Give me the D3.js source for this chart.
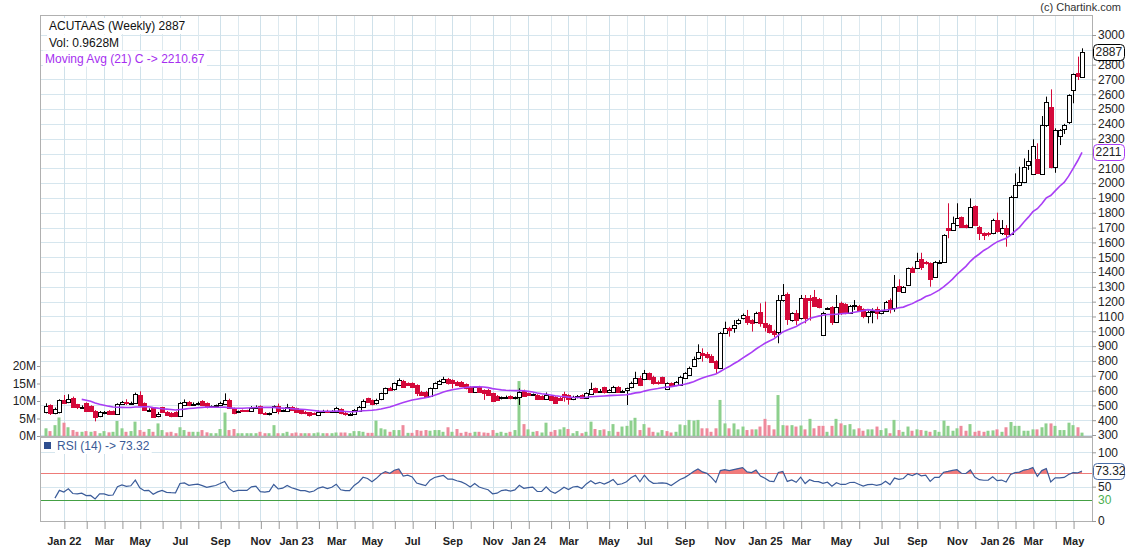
<!DOCTYPE html>
<html><head><meta charset="utf-8">
<script src="https://cdnjs.cloudflare.com/ajax/libs/d3/7.8.5/d3.min.js"></script>
<style>
html,body{margin:0;padding:0;background:#fff;}
svg{display:block;font-family:"Liberation Sans",Arial,sans-serif;}
</style></head><body>
<svg id="chart" width="1127" height="551"></svg>
<script>
// ---------------- DATA ----------------
const startDate = new Date(2021, 11, 6); // first visible weekly candle (Mon)
// closes of the 12 weeks before the visible range (feed MA / RSI only)
const preCloses = [580,630,650,630,600,580,565,550,535,525,515,505];
const opens = [
458,502,451,455,536,520,552,507,487,514, 495,462,428,450,462,460,441,509,525,513,
514,570,514,469,480,430,487,458,450,455, 430,505,525,505,508,529,514,488,495,502,
510,536,480,455,469,468,460,485,495,450, 443,458,496,462,465,491,480,469,458,452,
448,435,460,465,455,458,475,450,432,442, 465,491,547,536,514,540,581,615,608,638,
664,649,649,638,593,593,563,615,645,655, 676,671,660,660,642,626,589,626,604,604,
581,563,548,556,563,548,559,600,581,570, 570,563,545,563,559,552,574,570,541,556,
570,548,577,615,593,622,593,593,626,593, 603,622,649,682,676,716,694,658,689,608,
649,638,638,683,705,766,817,856,845,836, 800,750,991,1020,1020,1054,1088,1103,1076,1061,
1132,1058,1043,1000,993,1211,1252,1076,1121,1088, 1223,1223,1234,1216,975,1155,1162,1065,1189,1184,
1126,1172,1171,1148,1103,1130,1148,1121,1139,1211, 1155,1306,1268,1313,1430,1425,1488,1470,1459,1369,
1463,1470,1695,1684,1717,1769,1717,1702,1846,1706, 1661,1661,1661,1751,1661,1695,1657,1909,1988,2005,
2122,2061,2160,2061,2392,2511,2106,2318,2363,2410, 2629,2746,2719];
const highs = [
514,507,485,541,570,575,559,510,500,520, 500,468,462,462,468,465,514,530,541,525,
586,595,520,480,487,455,490,462,455,460, 522,540,530,520,525,535,520,500,505,525,
581,545,485,465,472,470,495,500,500,455, 452,500,512,472,510,495,485,472,462,455,
452,465,470,470,468,490,480,455,448,475, 496,540,552,540,545,585,620,625,654,682,
672,655,655,642,598,598,620,655,672,693, 685,676,665,664,648,630,627,632,608,610,
585,570,560,566,568,560,615,606,585,580, 575,568,587,568,562,563,592,575,565,570,
575,588,653,620,610,626,610,632,630,605, 620,660,727,700,739,722,700,668,694,655,
655,664,700,724,762,829,912,885,860,845, 805,995,1065,1030,1076,1085,1120,1144,1082,1132,
1189,1200,1050,1010,1245,1319,1262,1128,1144,1245, 1245,1245,1279,1225,1132,1162,1170,1245,1200,1190,
1178,1211,1178,1155,1140,1155,1166,1145,1205,1222, 1380,1351,1305,1430,1436,1530,1530,1475,1465,1475,
1480,1655,1864,1774,1864,1775,1722,1897,1850,1712, 1668,1670,1760,1801,1751,1717,1915,2066,2111,2167,
2224,2296,2269,2453,2584,2633,2370,2365,2400,2600, 2740,2854,2910];
const lows = [
446,435,440,446,513,515,487,475,478,455, 455,392,420,440,435,437,437,505,502,505,
510,495,462,460,415,420,452,428,420,425, 425,500,495,498,500,497,480,485,485,495,
505,476,440,448,455,455,458,478,440,435, 432,455,440,455,460,462,452,440,440,424,
435,430,452,450,450,455,440,430,428,438, 460,485,518,500,505,535,575,600,600,630,
620,632,620,563,565,553,558,610,640,650, 640,615,630,625,608,588,585,588,537,565,
525,530,540,550,540,540,503,558,565,563, 536,536,540,530,512,530,525,505,535,548,
545,545,572,582,585,580,588,588,588,588, 502,615,645,630,670,670,640,640,645,605,
625,630,632,678,700,760,810,795,815,790, 716,745,985,964,990,1045,1080,1043,998,1055,
1031,998,985,960,919,1200,1043,1065,1043,1080, 1054,1072,1165,1155,970,1150,1043,1060,1110,1115,
1120,1144,1132,1088,1054,1054,1081,1115,1130,1121, 1132,1268,1262,1310,1395,1420,1414,1450,1301,1360,
1455,1465,1628,1680,1710,1700,1695,1698,1712,1616, 1616,1640,1655,1666,1650,1571,1650,1900,1980,2000,
2089,2055,2065,2055,2380,2100,2070,2257,2332,2400, 2539,2696,2715];
const closes = [
496,446,478,536,518,545,491,487,492,464, 465,420,457,457,441,443,509,525,513,518,
574,502,469,472,424,445,458,435,431,430, 518,525,502,510,514,502,487,495,502,518,
536,480,451,460,460,460,485,490,446,443, 447,496,460,466,487,469,458,446,446,435,
441,458,465,455,462,480,446,440,440,469, 491,532,525,507,536,581,615,605,649,671,
626,638,626,581,570,559,615,649,664,676, 649,649,638,630,615,593,622,593,581,570,
532,536,554,559,548,556,588,565,570,574, 541,541,570,536,518,536,559,541,559,563,
548,581,608,588,600,588,604,626,593,600, 616,653,682,638,721,676,649,650,653,649,
631,660,694,716,754,811,862,840,829,796, 750,991,1020,1009,1043,1076,1110,1065,1058,1126,
1058,1031,993,985,1211,1245,1081,1121,1076,1227, 1088,1211,1171,1166,1126,1158,1065,1162,1121,1121,
1171,1178,1139,1103,1132,1140,1121,1139,1200,1148, 1297,1274,1297,1425,1403,1474,1436,1459,1353,1470,
1470,1650,1684,1729,1762,1706,1702,1841,1717,1661, 1650,1654,1751,1679,1695,1657,1909,1988,2010,2111,
2152,2250,2070,2392,2549,2106,2359,2359,2392,2595, 2734,2725,2887];
const volumes = [ // millions
2.2,1.4,3.1,5.3,3.8,2.5,1.7,1.2,1.2,1.4, 1.2,1.4,0.8,1.4,1.05,1.2,4.3,2.2,1.2,1.4,
4.1,1.7,1.2,2.0,1.2,3.6,1.7,1.05,1.2,0.8, 2.5,1.7,1.2,1.2,1.2,1.7,1.05,0.8,0.8,2.0,
6.7,1.7,2.0,0.8,0.8,0.8,0.8,0.8,1.2,0.8, 0.8,3.1,0.8,0.8,1.2,0.8,1.0,0.8,0.8,0.8,
0.8,1.0,0.8,0.8,0.8,1.0,1.0,1.0,0.8,1.4, 1.4,1.2,0.9,0.9,4.4,2.2,1.9,1.2,1.7,1.7,
3.1,0.9,0.9,1.7,1.5,1.7,1.5,1.7,1.7,1.2, 2.5,1.2,2.0,0.9,1.2,0.9,1.2,1.2,1.0,0.9,
1.7,0.9,1.2,0.9,1.2,1.7,15.7,3.4,1.9,1.2, 1.4,1.0,3.8,1.2,1.7,1.9,2.5,2.0,0.8,1.4,
0.8,1.2,4.1,2.0,1.7,1.9,1.4,3.4,1.2,2.7, 2.9,4.4,5.2,1.7,3.4,2.4,1.2,1.0,1.7,1.4,
1.0,1.2,3.3,3.1,4.6,4.4,4.6,2.2,2.2,1.2, 2.2,10.3,3.6,2.2,3.6,1.9,2.7,1.7,1.9,1.9,
2.7,4.9,3.1,1.9,11.7,3.1,3.0,3.1,2.7,3.0, 1.9,4.9,2.2,2.9,2.9,1.2,2.9,4.9,3.6,3.1,
3.4,1.9,2.2,1.5,1.9,1.9,2.7,1.7,2.2,0.8, 4.6,1.7,1.2,2.7,1.5,1.9,1.7,1.5,1.2,1.7,
1.2,4.4,2.9,1.5,2.2,2.9,1.5,3.4,1.2,1.5, 1.2,1.5,1.6,1.9,1.2,2.5,4.0,2.9,2.9,1.5,
1.5,1.9,1.9,2.5,3.6,3.6,2.9,1.7,1.7,3.8, 3.1,2.5,0.9628];
const priceTicks = [300,400,500,600,700,800,900,1000,1100,1200,1300,1400,1500,1600,1700,1800,1900,2000,2100,2200,2300,2400,2500,2600,2700,2800,2900,3000];
const volTicks = [0,5,10,15,20];
const rsiTicks = [0,50,100];
const monthNames = ["Jan","Feb","Mar","Apr","May","Jun","Jul","Aug","Sep","Oct","Nov","Dec"];
const maPeriod = 21, rsiPeriod = 14;
const titleText = "ACUTAAS (Weekly) 2887";
const volText = "Vol: 0.9628M";
const maText = "Moving Avg (21) C -> 2210.67";
const rsiText = "RSI (14) -> 73.32";
const lastPriceLabel = "2887", lastMaLabel = "2211", lastRsiLabel = "73.32";
const lastMaValue = 2210.67, lastRsiValue = 73.32;

// ---------------- LAYOUT ----------------
const N = closes.length;
const L = 40, R = 1092, T = 15, MB = 436, RB = 521;
const svg = d3.select("#chart");
const x = d3.scaleLinear().domain([0, N - 1]).range([46, 1082]);
const y = d3.scaleLinear().domain([300, 3000]).range([435, 35]);
const yv = d3.scaleLinear().domain([0, 20]).range([MB, 366]);
const yr = d3.scaleLinear().domain([0, 100]).range([RB, 452.3]);
const xc = i => Math.round(x(i)) + 0.5;

const dates = closes.map((_, i) => d3.timeDay.offset(startDate, 7 * i));
const monthTicks = [];
dates.forEach((d, i) => { if (i > 0 && d.getMonth() !== dates[i - 1].getMonth()) monthTicks.push(i); });
const monthLabel = i => {
  const d = dates[i], m = d.getMonth();
  if (m % 2 !== 0) return "";
  return m === 0 ? "Jan " + String(d.getFullYear()).slice(2) : monthNames[m];
};

// ---------------- GRID ----------------
const grid = svg.append("g");
priceTicks.forEach(p => {
  const yy = Math.round(y(p)) + 0.5;
  grid.append("line").attr("x1", L).attr("x2", R).attr("y1", yy).attr("y2", yy).attr("stroke", "#d6e6ee");
});
monthTicks.forEach(i => {
  grid.append("line").attr("x1", xc(i)).attr("x2", xc(i)).attr("y1", T).attr("y2", RB)
    .attr("stroke", monthLabel(i) ? "#cfe1ea" : "#dde9ef");
});
[100, 50].forEach(v => {
  const yy = Math.round(yr(v)) + 0.5;
  grid.append("line").attr("x1", L).attr("x2", R).attr("y1", yy).attr("y2", yy).attr("stroke", "#d6e6ee");
});

// ---------------- VOLUME ----------------
const volUp = i => i === 0 ? closes[0] >= opens[0] : closes[i] >= closes[i - 1];
svg.append("g").selectAll("rect").data(volumes).join("rect")
  .attr("x", (d, i) => xc(i) - 2)
  .attr("width", 3)
  .attr("y", d => yv(d))
  .attr("height", d => MB - yv(d))
  .attr("fill", (d, i) => volUp(i) ? "#8dd08d" : "#ee8a9c");

// main panel bottom line
svg.append("line").attr("x1", L).attr("x2", R).attr("y1", MB + 1).attr("y2", MB + 1)
  .attr("stroke", "#b4b4b4").attr("stroke-width", 2);

// ---------------- CANDLES ----------------
const cg = svg.append("g");
for (let i = 0; i < N; i++) {
  const o = opens[i], c = closes[i];
  const up = c >= o;
  const col = up ? "#000" : "#d4093a";
  const hi = Math.max(highs[i], o, c), lo = Math.min(lows[i], o, c);
  cg.append("line").attr("x1", xc(i)).attr("x2", xc(i))
    .attr("y1", y(hi)).attr("y2", y(lo)).attr("stroke", col).attr("stroke-width", 1);
  const yt = Math.round(y(Math.max(o, c))) + 0.5;
  const yb = Math.round(y(Math.min(o, c))) + 0.5;
  cg.append("rect").attr("x", xc(i) - 2).attr("width", 4)
    .attr("y", yt).attr("height", Math.max(1, yb - yt))
    .attr("fill", up ? "#fff" : "#d4093a").attr("stroke", col).attr("stroke-width", 1);
}

// ---------------- MOVING AVERAGE ----------------
const allCloses = preCloses.concat(closes);
const P = preCloses.length;
const maPts = [];
for (let i = 0; i < N; i++) {
  const g = i + P;
  if (g >= maPeriod - 1) maPts.push({ i, v: d3.mean(allCloses.slice(g - maPeriod + 1, g + 1)) });
}
svg.append("path").datum(maPts)
  .attr("d", d3.line().x(d => x(d.i)).y(d => y(d.v)))
  .attr("fill", "none").attr("stroke", "#a93ef5").attr("stroke-width", 1.6);

// ---------------- RSI ----------------
const rsiPts = [];
let ag = 0, al = 0;
for (let g = 1; g < allCloses.length; g++) {
  const ch = allCloses[g] - allCloses[g - 1];
  const gain = Math.max(ch, 0), loss = Math.max(-ch, 0);
  if (g <= rsiPeriod) { ag += gain / rsiPeriod; al += loss / rsiPeriod; }
  else { ag = (ag * (rsiPeriod - 1) + gain) / rsiPeriod; al = (al * (rsiPeriod - 1) + loss) / rsiPeriod; }
  if (g >= rsiPeriod && g - P >= 0) {
    rsiPts.push({ i: g - P, v: al === 0 ? 100 : 100 - 100 / (1 + ag / al) });
  }
}
svg.append("clipPath").attr("id", "above70").append("rect")
  .attr("x", L).attr("y", T).attr("width", R - L).attr("height", yr(70) - T);
svg.append("path").datum(rsiPts).attr("clip-path", "url(#above70)")
  .attr("d", d3.area().x(d => x(d.i)).y0(yr(70)).y1(d => yr(d.v)))
  .attr("fill", "#f27b7b");
svg.append("line").attr("x1", L).attr("x2", R).attr("y1", Math.round(yr(70)) + 0.5).attr("y2", Math.round(yr(70)) + 0.5)
  .attr("stroke", "#ee7b78").attr("stroke-width", 1.2);
svg.append("line").attr("x1", L).attr("x2", R).attr("y1", Math.round(yr(30)) + 0.5).attr("y2", Math.round(yr(30)) + 0.5)
  .attr("stroke", "#44a044").attr("stroke-width", 1.2);
svg.append("path").datum(rsiPts)
  .attr("d", d3.line().x(d => x(d.i)).y(d => yr(d.v)))
  .attr("fill", "none").attr("stroke", "#3b5c9a").attr("stroke-width", 1.2);

// ---------------- BORDERS ----------------
const bc = "#b0b0b0";
svg.append("line").attr("x1", L + 0.5).attr("x2", L + 0.5).attr("y1", T).attr("y2", RB + 1).attr("stroke", bc);
svg.append("line").attr("x1", R + 0.5).attr("x2", R + 0.5).attr("y1", T).attr("y2", RB + 1).attr("stroke", bc);
svg.append("line").attr("x1", L).attr("x2", R + 1).attr("y1", T + 0.5).attr("y2", T + 0.5).attr("stroke", bc);
svg.append("line").attr("x1", L).attr("x2", R + 1).attr("y1", RB + 0.5).attr("y2", RB + 0.5).attr("stroke", bc);

// ---------------- AXES ----------------
function styleAxis(sel, size, weight) {
  sel.select(".domain").remove();
  sel.selectAll(".tick line").attr("stroke", "#999");
  sel.selectAll(".tick text").attr("fill", "#222").style("font-size", size + "px")
    .style("font-family", '"Liberation Sans",Arial,sans-serif').style("font-weight", weight || "normal");
}
// price labels hidden underneath the value boxes (as in the reference)
const boxValues = [closes[N - 1], lastMaValue];
const hiddenUnderBox = p => boxValues.some(v => Math.abs(y(p) - y(v)) < 9);
const ax1 = svg.append("g").attr("transform", `translate(${R},0)`)
  .call(d3.axisRight(y).tickValues(priceTicks).tickSize(4).tickPadding(2)
    .tickFormat(d => hiddenUnderBox(d) ? "" : d));
styleAxis(ax1, 12);
const ax2 = svg.append("g").attr("transform", `translate(${L},0)`)
  .call(d3.axisLeft(yv).tickValues(volTicks).tickSize(3).tickPadding(1).tickFormat(d => d + "M"));
styleAxis(ax2, 12);
const ax3 = svg.append("g").attr("transform", `translate(${R},0)`)
  .call(d3.axisRight(yr).tickValues(rsiTicks).tickSize(4).tickPadding(2));
styleAxis(ax3, 12);
svg.append("text").attr("x", R + 6).attr("y", yr(30)).attr("dy", "0.32em")
  .attr("fill", "#4caf50").style("font-size", "12px").text("30");
const ax4 = svg.append("g").attr("transform", `translate(0,${RB})`)
  .call(d3.axisBottom(x).tickValues(monthTicks).tickSize(8).tickPadding(8).tickFormat(monthLabel));
styleAxis(ax4, 11, "bold");
ax4.selectAll(".tick line").attr("transform", "translate(0.5,0)");

// ---------------- LABEL BOXES ----------------
function valueBox(yy, txt, stroke) {
  svg.append("rect").attr("x", R + 1.5).attr("y", Math.round(yy) - 7.5).attr("width", 31).attr("height", 16)
    .attr("rx", 4).attr("fill", "#fff").attr("stroke", stroke).attr("stroke-width", 1);
  svg.append("text").attr("x", R + 3.5).attr("y", yy).attr("dy", "0.36em")
    .attr("fill", "#222").style("font-size", "12px").text(txt);
}
valueBox(y(closes[N - 1]), lastPriceLabel, "#000");
valueBox(y(lastMaValue), lastMaLabel, "#a93ef5");
valueBox(yr(lastRsiValue), lastRsiLabel, "#4a6ea8");

// ---------------- LEGENDS ----------------
function legend(xx, yy, txt, col) {
  const t = svg.append("text").attr("x", xx).attr("y", yy).attr("fill", col).style("font-size", "12px").text(txt);
  const b = t.node().getBBox();
  svg.insert("rect", () => t.node()).attr("x", b.x - 2).attr("y", b.y - 1).attr("width", b.width + 4).attr("height", b.height + 2).attr("fill", "#fff");
}
legend(49, 30, titleText, "#111");
legend(49, 46.5, volText, "#111");
legend(45, 62.5, maText, "#a62ff0");
svg.append("rect").attr("x", 44).attr("y", 442).attr("width", 7).attr("height", 7).attr("fill", "#2f4f8f");
legend(57, 450, rsiText, "#3a5a96");

svg.append("text").attr("x", 1121).attr("y", 11).attr("text-anchor", "end")
  .attr("fill", "#333").style("font-size", "11px").text("(c) Chartink.com");
</script>
</body></html>
